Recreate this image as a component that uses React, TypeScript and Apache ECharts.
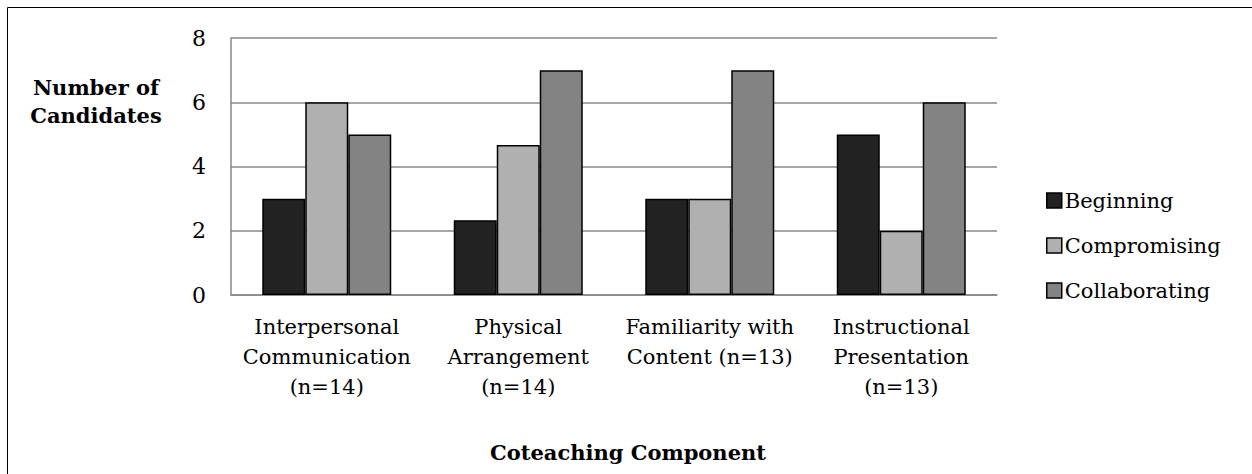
import React, { useEffect, useRef } from "react";
import * as echarts from "echarts";

const categories = [
  "Interpersonal\nCommunication\n(n=14)",
  "Physical\nArrangement\n(n=14)",
  "Familiarity with\nContent (n=13)",
  "Instructional\nPresentation\n(n=13)",
];
const beginning = [3, 2.33, 3, 5];
const compromising = [6, 4.67, 3, 2];
const collaborating = [5, 7, 7, 6];
const seriesNames = ["Beginning", "Compromising", "Collaborating"];
const yTicks = { min: 0, max: 8, interval: 2 };

const FONT = "'DejaVu Serif', serif";

export default function App() {
  const ref = useRef<HTMLDivElement>(null);
  useEffect(() => {
    const chart = echarts.init(ref.current!, null, { renderer: "svg" });
    const barStyle = (color: string) => ({
      color,
      borderColor: "#000",
      borderWidth: 1.5,
    });
    chart.setOption({
      animation: false,
      backgroundColor: "#fff",
      textStyle: { fontFamily: FONT, color: "#000" },
      grid: { left: 231, right: 255, top: 38, bottom: 179 },
      legend: {
        orient: "vertical",
        left: 1041,
        top: 185,
        itemGap: 24,
        itemWidth: 15,
        itemHeight: 15,
        icon: "rect",
        textStyle: { fontFamily: FONT, fontSize: 21, color: "#000", padding: [0, 0, 0, -2] },
        data: seriesNames.map((n) => ({ name: n, itemStyle: { borderColor: "#000", borderWidth: 1.5 } })),
      },
      xAxis: {
        type: "category",
        data: categories,
        axisLine: { lineStyle: { color: "#888", width: 1.5 } },
        axisTick: { show: false },
        axisLabel: {
          interval: 0,
          margin: 17,
          fontFamily: FONT,
          fontSize: 21,
          lineHeight: 30,
          color: "#000",
        },
      },
      yAxis: {
        type: "value",
        min: yTicks.min,
        max: yTicks.max,
        interval: yTicks.interval,
        axisLine: { show: true, lineStyle: { color: "#888", width: 1.5 } },
        axisTick: { show: false },
        splitLine: { lineStyle: { color: "#888", width: 1.5 } },
        axisLabel: { margin: 25, fontFamily: FONT, fontSize: 22, color: "#000" },
      },
      series: [
        { name: seriesNames[0], type: "bar", data: beginning, barWidth: 43, barGap: "0%", itemStyle: barStyle("#222222") },
        { name: seriesNames[1], type: "bar", data: compromising, barWidth: 43, barGap: "0%", itemStyle: barStyle("#b0b0b0") },
        { name: seriesNames[2], type: "bar", data: collaborating, barWidth: 43, barGap: "0%", itemStyle: barStyle("#838383") },
      ],
      graphic: [
        {
          type: "rect",
          shape: { x: 7.5, y: 7.5, width: 1300, height: 500 },
          style: { fill: "none", stroke: "#000", lineWidth: 1 },
          silent: true,
        },
        {
          type: "text",
          x: 96,
          y: 101,
          style: {
            text: "Number of\nCandidates",
            align: "center",
            verticalAlign: "middle",
            font: "bold 21px " + FONT,
            lineHeight: 28,
            fill: "#000",
          },
        },
        {
          type: "text",
          x: 628,
          y: 452,
          style: {
            text: "Coteaching Component",
            align: "center",
            verticalAlign: "middle",
            font: "bold 21px " + FONT,
            fill: "#000",
          },
        },
      ],
    });
    return () => chart.dispose();
  }, []);
  return (
    <div
      ref={ref}
      style={{ position: "absolute", left: 0, top: 0, width: 1252, height: 474 }}
    />
  );
}
